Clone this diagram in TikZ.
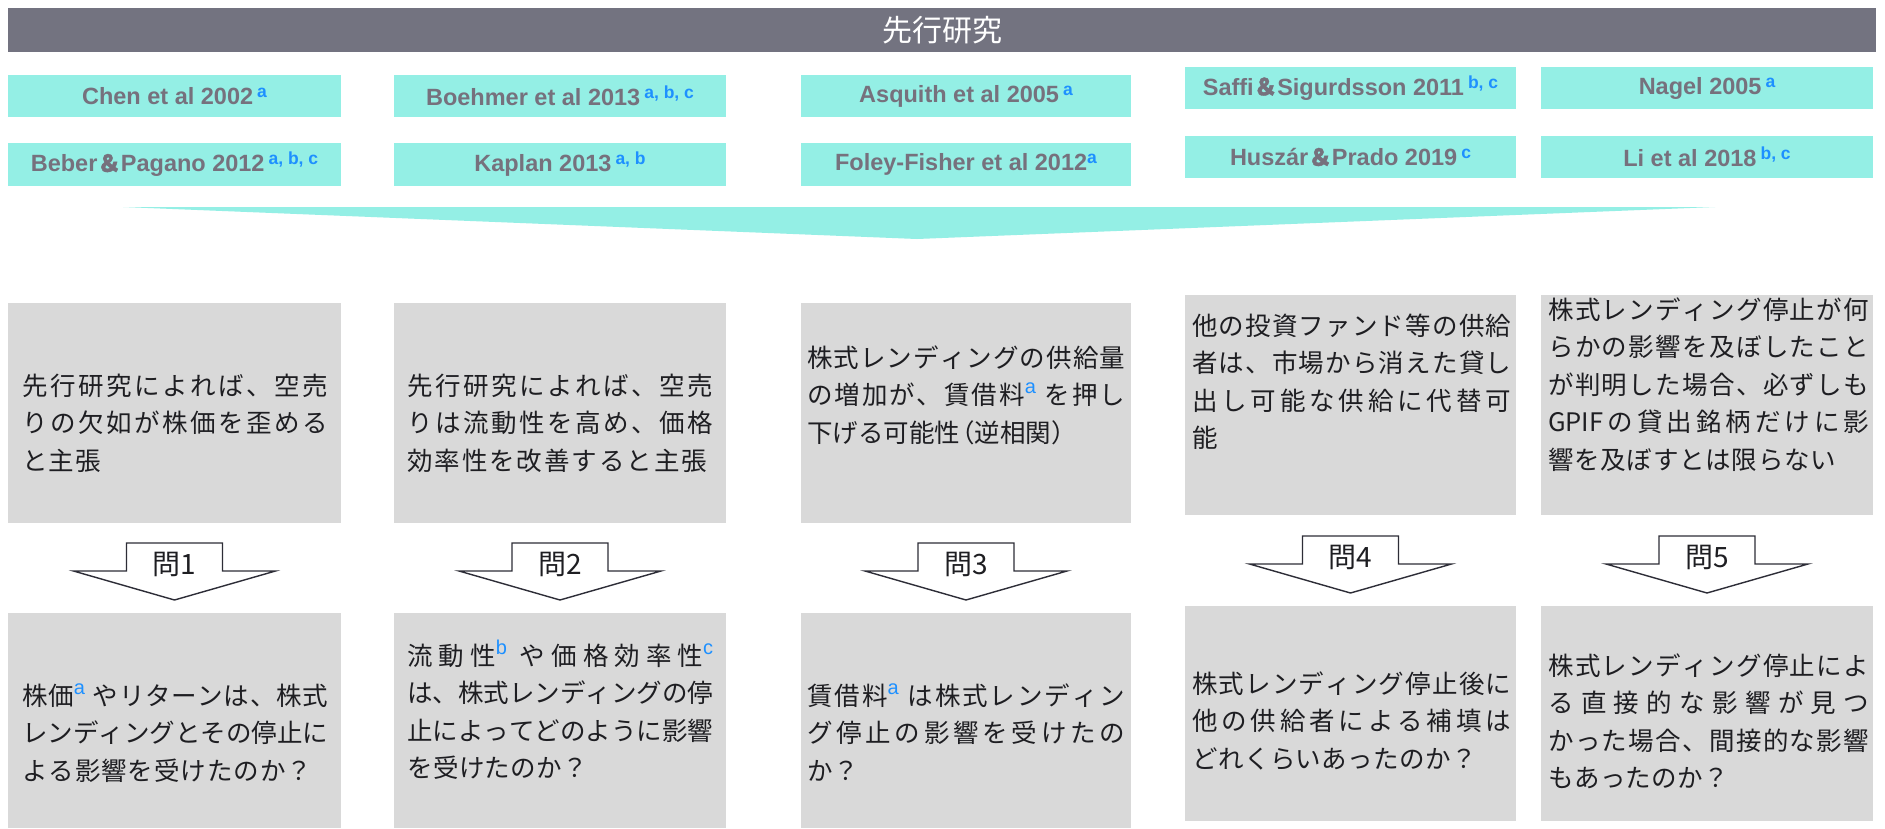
\documentclass[tikz,border=0pt]{standalone}
\usepackage{fontspec}
\setmainfont{Liberation Sans}
\newfontfamily\jp{Noto Sans CJK JP}
\newfontfamily\jpb[FakeBold=1.5]{Noto Sans CJK JP}
\definecolor{titlebar}{RGB}{115,115,128}
\definecolor{teal1}{RGB}{148,239,229}
\definecolor{tgray}{RGB}{118,113,125}
\definecolor{supblue}{RGB}{30,144,255}
\definecolor{boxgray}{RGB}{217,217,217}
\definecolor{jtext}{RGB}{30,30,34}
\definecolor{arrowc}{RGB}{45,45,55}
\makeatletter
\newcommand\J[2][306pt]{\hbox to #1{\J@first#2\@nil}}
\def\J@first#1{#1\J@loop}
\def\J@loop#1{\ifx#1\@nil\else\hfil#1\expandafter\J@loop\fi}
\makeatother
\newcommand\jsup[1]{\raisebox{11pt}{\normalfont\fontsize{20}{20}\selectfont\color{supblue}#1}}
\def\sa{\jsup{a}}
\def\sb{\jsup{b}}
\def\sc{\jsup{c}}
\def\gap{\hspace{7pt}}
\def\gpif{GPIF}
\def\lp{\kern-11pt（}
\def\rp{）\kern-11pt}
\newcommand\tsup[1]{\hspace{4pt}\raisebox{7pt}{\fontsize{17.5}{17.5}\selectfont\bfseries\color{supblue}#1}}
\newcommand\amp{{\jpb ＆}}
\newcommand\bx[7]{\node[#1, minimum width={(#5-#3)*1pt}, minimum height={(#6-#4)*1pt}] (#2) at ({(#3+#5)/2},{(#4+#6)/2}) {#7};}
\newcommand\qarr[4]{%
  \draw[qarrow] ({#2-48},{#3}) -- ({#2+48},{#3}) -- ({#2+48},{#3+28}) -- ({#2+101},{#3+28}) -- ({#2},{#3+57}) -- ({#2-101},{#3+28}) -- ({#2-48},{#3+28}) -- cycle;
  \node[qlab] (#1) at ({#2},{#3+21}) {#4};}
\tikzset{
  tb/.style={fill=teal1, inner sep=0pt, text=tgray, font=\fontsize{23.5}{26}\selectfont\bfseries},
  gb/.style={fill=boxgray, inner sep=0pt},
  jt/.style={inner sep=0pt, anchor=base west, text=jtext, font=\jp\fontsize{25.5}{37.5}\selectfont},
  qarrow/.style={fill=white, draw=arrowc, line width=1.4pt, line join=miter},
  qlab/.style={font=\jp\fontsize{28}{28}\selectfont, text=jtext, inner sep=0pt}
}
\newcommand\jlines[1]{\vtop{\baselineskip=37.5pt\lineskiplimit=-100pt\lineskip=0pt #1}}
\begin{document}
\begin{tikzpicture}[x=1pt,y=-1pt]
\useasboundingbox (0,0) rectangle (1885,828);
\fill[white] (0,0) rectangle (1885,828);
% title
\bx{fill=titlebar, inner sep=0pt}{bar}{8}{8}{1876}{52}{}
\node[font=\jp\fontsize{30}{30}\selectfont, text=white, inner sep=0pt] (title) at (942,30) {先行研究};
% references
\bx{tb}{chen}{8}{75}{341}{117}{Chen et al 2002\tsup{a}}
\bx{tb}{beber}{8}{143}{341}{186}{Beber\amp Pagano 2012\tsup{a, b, c}}
\bx{tb}{boehmer}{394}{75}{726}{117}{Boehmer et al 2013\tsup{a, b, c}}
\bx{tb}{kaplan}{394}{143}{726}{186}{Kaplan 2013\tsup{a, b}}
\bx{tb}{asquith}{801}{75}{1131}{117}{Asquith et al 2005\tsup{a}}
\bx{tb}{foley}{801}{143}{1131}{186}{Foley-Fisher et al 2012{\raisebox{7pt}{\fontsize{17.5}{17.5}\selectfont\bfseries\color{supblue}a}}}
\bx{tb}{saffi}{1185}{67}{1516}{109}{Saffi\amp Sigurdsson 2011\tsup{b, c}}
\bx{tb}{huszar}{1185}{136}{1516}{178}{Huszár\amp Prado 2019\tsup{c}}
\bx{tb}{nagel}{1541}{67}{1873}{109}{Nagel 2005\tsup{a}}
\bx{tb}{li}{1541}{136}{1873}{178}{Li et al 2018\tsup{b, c}}
% funnel
\fill[teal1] (123,207) -- (1715,207) -- (917,239) -- cycle;
% premise boxes
\bx{gb}{p1}{8}{303}{341}{523}{}
\bx{gb}{p2}{394}{303}{726}{523}{}
\bx{gb}{p3}{801}{303}{1131}{523}{}
\bx{gb}{p4}{1185}{295}{1516}{515}{}
\bx{gb}{p5}{1541}{295}{1873}{515}{}
% question boxes
\bx{gb}{q1}{8}{613}{341}{828}{}
\bx{gb}{q2}{394}{613}{726}{828}{}
\bx{gb}{q3}{801}{613}{1131}{828}{}
\bx{gb}{q4}{1185}{606}{1516}{821}{}
\bx{gb}{q5}{1541}{606}{1873}{821}{}
% premise texts
\node[jt] (p1t) at (22,395) {\jlines{\J{先行研究によれば、空売}\J{りの欠如が株価を歪める}\J[79pt]{と主張}}};
\node[jt] (p2t) at (407,395) {\jlines{\J{先行研究によれば、空売}\J{りは流動性を高め、価格}\J[300pt]{効率性を改善すると主張}}};
\node[jt] (p3t) at (807,367) {\jlines{\J[318pt]{株式レンディングの供給量}\J[318pt]{の増加が、賃借{料\sa\gap}を押し}\J[240pt]{下げる可能性\lp 逆相関\rp}}};
\node[jt] (p4t) at (1192,335) {\jlines{\J[319pt]{他の投資ファンド等の供給}\J[319pt]{者は、市場から消えた貸し}\J[319pt]{出し可能な供給に代替可}\J[26pt]{能}}};
\node[jt] (p5t) at (1548,319) {\jlines{\J[321pt]{株式レンディング停止が何}\J[321pt]{らかの影響を及ぼしたこと}\J[321pt]{が判明した場合、必ずしも}\J[321pt]{\gpif の貸出銘柄だけに影}\J[288pt]{響を及ぼすとは限らない}}};
% question texts
\node[jt] (q1t) at (22,705) {\jlines{\J{株{価\sa\gap}やリターンは、株式}\J{レンディングとその停止に}\J[290pt]{よる影響を受けたのか？}}};
\node[jt] (q2t) at (407,665) {\jlines{\J{流動{性\sb\gap}や価格効率{性\sc}}\J{は、株式レンディングの停}\J{止によってどのように影響}\J[181pt]{を受けたのか？}}};
\node[jt] (q3t) at (807,705) {\jlines{\J[318pt]{賃借{料\sa\gap}は株式レンディン}\J[318pt]{グ停止の影響を受けたの}\J[52pt]{か？}}};
\node[jt] (q4t) at (1192,693) {\jlines{\J[319pt]{株式レンディング停止後に}\J[319pt]{他の供給者による補填は}\J[285pt]{どれくらいあったのか？}}};
\node[jt] (q5t) at (1548,675) {\jlines{\J[321pt]{株式レンディング停止によ}\J[321pt]{る直接的な影響が見つ}\J[321pt]{かった場合、間接的な影響}\J[181pt]{もあったのか？}}};
% arrows
\qarr{a1}{174.5}{543}{問1}
\qarr{a2}{560}{543}{問2}
\qarr{a3}{966}{543}{問3}
\qarr{a4}{1350.5}{536}{問4}
\qarr{a5}{1707}{536}{問5}
\end{tikzpicture}
\end{document}
